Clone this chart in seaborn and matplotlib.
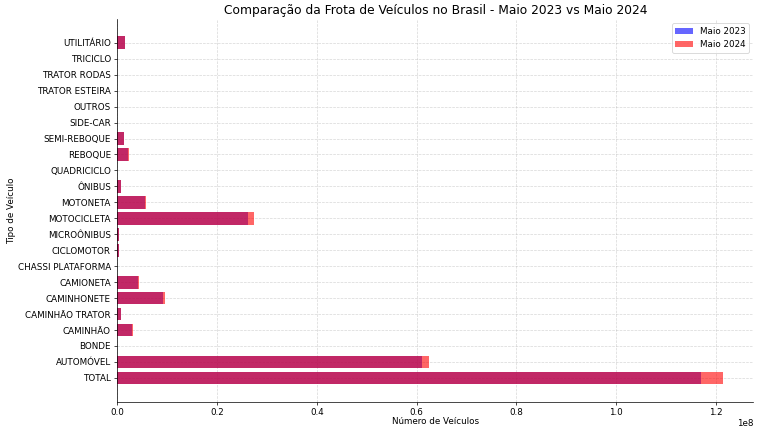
import matplotlib
matplotlib.use("Agg")
import matplotlib.pyplot as plt
import seaborn as sns
import pandas as pd

categorias = ["TOTAL", "AUTOMÓVEL", "BONDE", "CAMINHÃO", "CAMINHÃO TRATOR",
              "CAMINHONETE", "CAMIONETA", "CHASSI PLATAFORMA", "CICLOMOTOR",
              "MICROÔNIBUS", "MOTOCICLETA", "MOTONETA", "ÔNIBUS", "QUADRICICLO",
              "REBOQUE", "SEMI-REBOQUE", "SIDE-CAR", "OUTROS", "TRATOR ESTEIRA",
              "TRATOR RODAS", "TRICICLO", "UTILITÁRIO"]

maio_2023 = [117000000, 61000000, 400, 3000000, 780000,
             9230000, 4200000, 2600, 450000,
             420000, 26300000, 5560000, 700000, 400,
             2200000, 1300000, 5600, 7000, 200,
             55000, 45000, 1550000]

maio_2024 = [121400000, 62400000, 400, 3100000, 830000,
             9630000, 4400000, 2700, 470000,
             450000, 27400000, 5900000, 730000, 450,
             2350000, 1370000, 5700, 7200, 220,
             58000, 48000, 1650000]

df = pd.DataFrame({"Tipo": categorias, "2023": maio_2023, "2024": maio_2024})
ordem = categorias[::-1]

DPI = 63.17
fig, ax = plt.subplots(figsize=(12, 6.823), dpi=DPI)

sns.barplot(data=df, x="2023", y="Tipo", order=ordem, color="blue", alpha=0.6,
            saturation=1, errorbar=None, width=0.8, label="Maio 2023", ax=ax)
sns.barplot(data=df, x="2024", y="Tipo", order=ordem, color="red", alpha=0.6,
            saturation=1, errorbar=None, width=0.8, label="Maio 2024", ax=ax)

n = len(categorias)
ax.set_ylim(n - 1 + 1.49, -1.49)
ax.margins(x=0.05)
ax.grid(True, linestyle="--", alpha=0.5)
ax.set_axisbelow(True)
for s in ["top", "right"]:
    ax.spines[s].set_visible(False)

ax.set_title("Comparação da Frota de Veículos no Brasil - Maio 2023 vs Maio 2024", fontsize=14)
ax.set_xlabel("Número de Veículos", labelpad=0.5)
ax.set_ylabel("Tipo de Veículo", labelpad=2)
ax.legend(loc="upper right")

fig.subplots_adjust(left=0.1544, right=0.994, bottom=0.068, top=0.956)
fig.savefig("out.png", dpi=DPI)
